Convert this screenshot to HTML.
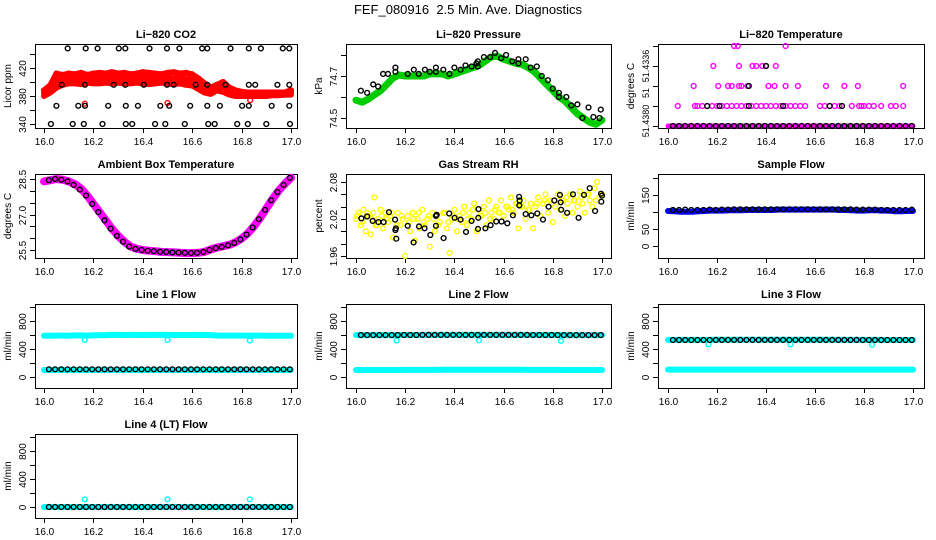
<!DOCTYPE html>
<html><head><meta charset="utf-8"><style>
html,body{margin:0;padding:0;background:#fff}
svg{display:block;font-family:"Liberation Sans",Arial,sans-serif}
</style></head><body>
<svg id="c" width="936" height="540" viewBox="0 0 936 540" xmlns="http://www.w3.org/2000/svg">
<text x="468" y="14" text-anchor="middle" font-size="13" style="white-space:pre">FEF_080916  2.5 Min. Ave. Diagnostics</text>
</svg>
<script>
const xTicks=[16.0,16.2,16.4,16.6,16.8,17.0];
const xTickLabels=["16.0","16.2","16.4","16.6","16.8","17.0"];
const T41=[16.0,16.025,16.05,16.075,16.1,16.125,16.15,16.175,16.2,16.225,16.25,16.275,16.3,16.325,16.35,16.375,16.4,16.425,16.45,16.475,16.5,16.525,16.55,16.575,16.6,16.625,16.65,16.675,16.7,16.725,16.75,16.775,16.8,16.825,16.85,16.875,16.9,16.925,16.95,16.975,17.0];
const blackT=[16.02,16.045,16.07,16.095,16.12,16.145,16.17,16.195,16.22,16.245,16.27,16.295,16.32,16.345,16.37,16.395,16.42,16.445,16.47,16.495,16.52,16.545,16.57,16.595,16.62,16.645,16.67,16.695,16.72,16.745,16.77,16.795,16.82,16.845,16.87,16.895,16.92,16.945,16.97,16.995];
// CO2
const co2RedHi=[388,395,412,410,412,411,413,410,412,413,412,414,412,413,411,412,414,413,412,411,413,414,412,413,411,405,398,392,396,400,392,388,386,385,385,385,385,385,385,385,388];
const co2RedMid=[384,390,402,403,405,404,405,404,405,405,405,406,405,405,404,405,406,405,405,405,405,405,405,404,403,397,391,387,392,393,387,384,383,383,383,383,383,383,383,383,385];
const co2RedLo=[380,385,392,396,398,398,397,399,398,398,399,398,399,398,398,399,398,397,398,399,398,397,398,396,395,390,385,383,388,386,382,380,380,380,380,380,380,381,381,382,382];
const co2BlackT=[16.096,16.169,16.217,16.303,16.329,16.427,16.498,16.548,16.640,16.661,16.755,16.829,16.878,16.967,16.993,16.072,16.166,16.282,16.329,16.404,16.498,16.525,16.614,16.661,16.735,16.829,16.855,16.945,16.993,16.050,16.139,16.166,16.260,16.331,16.380,16.471,16.507,16.592,16.661,16.712,16.802,16.829,16.922,16.993,16.028,16.116,16.161,16.237,16.331,16.357,16.450,16.491,16.570,16.665,16.691,16.782,16.825,16.900,16.996];
const co2BlackV=[448,448,448,448,448,448,448,448,448,448,448,448,448,448,448,396,396,396,396,396,396,396,396,396,396,396,396,396,396,366,366,366,366,366,366,366,366,366,366,366,366,366,366,366,340,340,340,340,340,340,340,340,340,340,340,340,340,340,340];
const co2RedOutT=[16.165,16.5,16.835];
const co2RedOutV=[369,370,374];
// Pressure
const presGreen=[74.585,74.575,74.59,74.61,74.63,74.66,74.69,74.705,74.70,74.70,74.70,74.70,74.71,74.71,74.71,74.70,74.71,74.72,74.73,74.74,74.75,74.77,74.79,74.795,74.78,74.77,74.76,74.755,74.74,74.72,74.69,74.66,74.63,74.60,74.58,74.55,74.52,74.50,74.48,74.47,74.49];
const presBlackT=[16.02,16.045,16.07,16.09,16.11,16.13,16.16,16.16,16.21,16.235,16.255,16.28,16.30,16.325,16.325,16.355,16.38,16.40,16.425,16.445,16.47,16.49,16.495,16.495,16.52,16.545,16.565,16.59,16.61,16.635,16.66,16.66,16.69,16.71,16.735,16.755,16.78,16.80,16.825,16.825,16.855,16.875,16.90,16.92,16.945,16.965,16.99,16.995];
const presBlackV=[74.63,74.62,74.66,74.65,74.71,74.71,74.72,74.74,74.71,74.73,74.71,74.73,74.72,74.74,74.72,74.73,74.71,74.74,74.73,74.75,74.745,74.76,74.77,74.745,74.79,74.79,74.81,74.785,74.80,74.77,74.78,74.76,74.78,74.74,74.745,74.70,74.68,74.64,74.62,74.60,74.60,74.56,74.565,74.50,74.55,74.505,74.50,74.54];
// Li-820 temperature (quantized levels)
const tempMagT=[16.04,16.11,16.12,16.14,16.16,16.18,16.20,16.22,16.24,16.26,16.28,16.30,16.32,16.34,16.36,16.38,16.40,16.42,16.44,16.46,16.48,16.50,16.52,16.54,16.56,16.62,16.64,16.66,16.68,16.70,16.75,16.78,16.79,16.80,16.82,16.84,16.87,16.91,16.93,16.96,16.105,16.205,16.245,16.26,16.29,16.30,16.325,16.41,16.435,16.48,16.53,16.645,16.72,16.775,16.96,16.185,16.29,16.345,16.36,16.385,16.40,16.44,16.27,16.285,16.48];
const tempMagLevel=[1,1,1,1,1,1,1,1,1,1,1,1,1,1,1,1,1,1,1,1,1,1,1,1,1,1,1,1,1,1,1,1,1,1,1,1,1,1,1,1,2,2,2,2,2,2,2,2,2,2,2,2,2,2,2,3,3,3,3,3,3,3,4,4,4];
const tempBlackT=[16.16,16.21,16.33,16.47,16.66,16.71,16.33,16.40];
const tempBlackLevel=[1,1,1,1,1,1,2,3];
// Ambient
const ambMag=[28.4,28.45,28.5,28.47,28.4,28.28,28.1,27.8,27.45,27.1,26.75,26.4,26.1,25.85,25.65,25.55,25.5,25.47,25.45,25.42,25.41,25.4,25.38,25.37,25.37,25.38,25.42,25.52,25.6,25.66,25.72,25.82,25.98,26.2,26.5,26.85,27.25,27.65,28.0,28.3,28.55];
const ambBlack=[28.45,28.5,28.47,28.4,28.25,28.05,27.8,27.45,27.1,26.75,26.4,26.1,25.85,25.65,25.55,25.5,25.47,25.45,25.43,25.42,25.4,25.39,25.38,25.37,25.38,25.42,25.5,25.58,25.63,25.7,25.8,25.95,26.15,26.45,26.8,27.2,27.6,27.95,28.25,28.55];
// RH
const rhYelT=[16.0,16.01,16.02,16.03,16.04,16.05,16.06,16.07,16.075,16.08,16.09,16.1,16.11,16.12,16.13,16.14,16.15,16.17,16.18,16.19,16.2,16.21,16.22,16.23,16.24,16.25,16.26,16.27,16.28,16.29,16.3,16.31,16.32,16.33,16.34,16.36,16.37,16.38,16.39,16.4,16.41,16.42,16.43,16.44,16.45,16.46,16.47,16.48,16.49,16.5,16.51,16.52,16.53,16.54,16.55,16.56,16.57,16.58,16.59,16.6,16.61,16.62,16.63,16.64,16.65,16.66,16.67,16.68,16.69,16.7,16.71,16.72,16.73,16.74,16.75,16.76,16.77,16.78,16.79,16.8,16.81,16.82,16.83,16.84,16.85,16.86,16.87,16.88,16.89,16.9,16.91,16.92,16.93,16.94,16.95,16.96,16.97,16.98,16.99,17.0,16.005,16.025,16.045,16.065,16.085,16.105,16.125,16.145,16.165,16.185,16.215,16.235,16.255,16.275,16.295,16.315,16.335,16.355,16.375,16.395,16.415,16.435,16.455,16.475,16.505,16.525,16.545,16.565,16.585,16.615,16.635,16.655,16.675,16.705,16.735,16.765,16.795,16.825,16.855,16.885,16.915,16.945,16.975];
const rhYelV=[2.02,2.03,2.01,2.035,2.00,2.025,1.995,2.03,2.055,2.01,2.02,2.035,2.005,2.03,2.015,2.025,1.99,2.03,2.01,2.02,1.96,2.025,2.0,2.03,1.985,2.02,2.005,2.035,2.01,2.02,1.975,2.03,2.0,2.025,2.015,2.03,2.005,1.965,2.02,2.035,2.0,2.025,2.015,2.04,2.01,2.03,2.02,2.045,2.0,2.035,2.025,2.04,2.01,2.05,2.03,2.02,2.04,2.03,2.05,2.025,2.04,2.035,2.055,2.03,2.045,2.005,2.04,2.05,2.02,2.035,2.045,2.005,2.04,2.055,2.025,2.045,2.06,2.03,2.05,2.015,2.04,2.06,2.035,2.05,2.025,2.045,2.06,2.03,2.05,2.04,2.065,2.045,2.03,2.06,2.05,2.04,2.07,2.08,2.055,2.06,2.025,2.015,2.03,2.02,2.01,2.025,2.02,2.03,2.01,2.025,2.015,2.02,2.03,2.015,2.025,2.02,2.01,2.03,2.015,2.025,2.02,2.03,2.02,2.035,2.025,2.03,2.02,2.035,2.03,2.04,2.035,2.045,2.04,2.035,2.045,2.05,2.045,2.05,2.055,2.05,2.055,2.06,2.05];
const rhBlackT=[16.022,16.045,16.068,16.091,16.112,16.134,16.159,16.16,16.162,16.164,16.21,16.234,16.256,16.279,16.302,16.325,16.325,16.328,16.356,16.379,16.401,16.425,16.447,16.47,16.496,16.497,16.498,16.526,16.547,16.57,16.592,16.615,16.638,16.663,16.664,16.665,16.69,16.713,16.737,16.76,16.783,16.806,16.829,16.832,16.834,16.858,16.882,16.905,16.927,16.95,16.972,16.996,16.997,17.0];
const rhBlackV=[2.021,2.024,2.017,2.015,2.015,2.031,2.019,2.002,2.005,1.988,2.009,1.982,2.008,2.005,1.994,2.009,2.025,2.027,1.989,2.029,2.022,2.019,1.999,2.017,2.004,2.022,2.036,2.005,2.010,2.016,2.016,2.013,2.026,2.056,2.042,2.050,2.028,2.026,2.029,2.019,2.04,2.05,2.059,2.047,2.035,2.03,2.06,2.022,2.059,2.07,2.033,2.061,2.048,2.058];
// Sample flow
const sampBlue=[103,102,101,101,101,102,103,104,104,104,105,105,105,106,106,106,106,106,107,107,107,107,107,107,107,107,107,107,106,106,105,104,104,105,105,104,104,102,102,103,103];
const sampBlack=[106,106,107,106,106,106,107,106,107,107,108,108,108,108,108,108,108,108,108,108,108,108,108,108,108,108,108,108,108,108,107,107,107,107,106,106,106,106,106,107];
// Line flows
const line1CyanHi=[590,590,592,592,590,594,595,592,596,596,598,602,602,600,602,602,600,602,602,602,602,600,600,600,600,602,600,598,592,592,592,592,592,590,592,592,590,590,590,590,590];
const line1CyanLo=[100,100,100,100,100,100,100,100,100,100,100,100,100,100,100,100,100,100,100,100,100,100,100,100,100,100,100,100,100,100,100,100,100,100,100,100,100,100,100,100,100];
const line1Black=[110,110,110,110,110,110,110,110,110,110,110,110,110,110,110,110,110,110,110,110,110,110,110,110,110,110,110,110,110,110,110,110,110,110,110,110,110,110,110,110];
const line2CyanHi=[598,598,598,598,598,598,598,600,600,600,600,602,602,602,602,602,602,602,602,602,602,602,602,602,602,602,602,602,600,600,600,600,600,598,598,598,598,598,598,598,598];
const line2CyanLo=[100,100,100,100,100,100,100,100,102,102,102,102,102,102,104,104,104,104,104,104,104,104,104,104,104,104,104,104,102,102,102,102,102,102,100,100,100,100,100,100,100];
const line2Black=[598,598,598,598,598,598,600,600,600,600,602,602,602,602,602,602,602,602,602,602,602,602,602,602,602,602,602,602,600,600,600,600,600,598,598,598,598,598,598,598];
const line3CyanHi=[530,530,530,530,530,530,530,530,532,532,532,532,532,532,532,532,532,532,532,532,532,532,532,532,532,532,532,532,530,530,530,530,530,530,530,528,528,528,528,528,528];
const line3CyanLo=[105,105,105,105,105,105,105,105,105,105,105,105,105,105,105,105,105,105,105,105,105,105,105,105,105,105,105,105,105,105,105,105,105,105,105,105,105,105,105,105,105];
const line3Black=[528,528,528,528,528,528,528,530,530,530,530,530,530,530,530,530,530,530,530,530,530,530,530,530,530,530,530,530,530,530,530,528,528,528,528,528,528,528,528,528];
const line4Cyan=[0,0,0,0,0,0,0,0,0,0,0,0,0,0,0,0,0,0,0,0,0,0,0,0,0,0,0,0,0,0,0,0,0,0,0,0,0,0,0,0,0];
const line4Black=[0,0,0,0,0,0,0,0,0,0,0,0,0,0,0,0,0,0,0,0,0,0,0,0,0,0,0,0,0,0,0,0,0,0,0,0,0,0,0,0];
const outT=[16.165,16.5,16.833];
const line1Out=[530,530,520];
const line2Out=[520,525,515];
const line3Out=[465,465,460];
const line4Out=[110,110,110];

const NS="http://www.w3.org/2000/svg";
const svg=document.getElementById('c');
const COLS=[{L:35,R:297,x0:44,x1:291},{L:346,R:611,x0:356,x1:602},{L:658,R:924,x0:668,x1:913}];
const ROWTOP=[44,174,304,434];
const PH=84;
function el(tag,attrs,parent){const e=document.createElementNS(NS,tag);for(const k in attrs)e.setAttribute(k,attrs[k]);(parent||svg).appendChild(e);return e;}

function panel(col,row,name,title,ylab,va,oa,vb,ob,yTicks,yLabels){
  const c=COLS[col],top=ROWTOP[row],bot=top+PH;
  const g=el('g',{});
  
  
  const sx=t=>c.x0+(t-16)*(c.x1-c.x0);
  const sy=v=>top+oa+(v-va)*(ob-oa)/(vb-va);
  const bx=el('rect',{x:c.L+.5,y:top+.5,width:c.R-c.L,height:PH,fill:'none',stroke:'#000','stroke-width':1},g);
  
  
  const tt=el('text',{x:(c.L+c.R)/2,y:top-6,'text-anchor':'middle','font-size':11,'font-weight':'bold'},g);
  tt.textContent=title;
  
  
  const yt=el('text',{transform:`translate(${c.L-24},${top+PH/2}) rotate(-90)`,'text-anchor':'middle','font-size':10},g);
  yt.textContent=ylab;
  
  
  const xa=el('g',{},g);
  
  
  xTicks.forEach((t,i)=>{
    const x=Math.round(sx(t))+.5;
    el('line',{x1:x,x2:x,y1:bot,y2:bot+5,stroke:'#000'},xa);
    const tx=el('text',{x:x,y:bot+17,'text-anchor':'middle','font-size':10},xa);
    tx.textContent=xTickLabels[i];
    
    
  });
  const ya=el('g',{},g);
  
  
  yTicks.forEach((v,i)=>{
    const y=Math.round(sy(v))+.5;
    el('line',{x1:c.L-5,x2:c.L,y1:y,y2:y,stroke:'#000'},ya);
    if(yLabels && yLabels[i]){
      const tx=el('text',{transform:`translate(${c.L-9},${y}) rotate(-90)`,'text-anchor':'middle','font-size':10},ya);
      tx.textContent=yLabels[i];
      
      
    }
  });
  return {g,sx,sy,ya,c,top};
}
function pts(p,ts,vs,color,name,r){
  const g=el('g',{fill:'none',stroke:color,'stroke-width':1.4},p.g);
  
  
  ts.forEach((t,i)=>{
    const c=el('circle',{cx:p.sx(t).toFixed(1),cy:p.sy(vs[i]).toFixed(1),r:r||2.4},g);
    
    
  });
}
function band(p,ts,vs,color,name,w){
  const d=ts.map((t,i)=>p.sx(t).toFixed(1)+','+p.sy(vs[i]).toFixed(1)).join(' ');
  const l=el('polyline',{points:d,fill:'none',stroke:color,'stroke-width':w||6,'stroke-linejoin':'round','stroke-linecap':'round'},p.g);
  
  
}

// Row 1
let p=panel(0,0,'co2','Li\u2212820 CO2','Licor ppm',340,80,420,24,[340,360,380,400,420,440],['340',null,'380',null,'420',null]);
band(p,T41,co2RedHi,'#ff0000','co2-red-band-upper',6);
band(p,T41,co2RedMid,'#ff0000','co2-red-band-middle',6);
band(p,T41,co2RedLo,'#ff0000','co2-red-band-lower',6);
pts(p,T41,co2RedHi,'#ff0000','co2-red-upper');
pts(p,co2RedOutT,co2RedOutV,'#ff0000','co2-red-outliers');
pts(p,co2BlackT,co2BlackV,'#000','co2-black');

p=panel(1,0,'pressure','Li\u2212820 Pressure','kPa',74.5,74,74.7,32,[74.5,74.6,74.7,74.8],['74.5',null,'74.7',null]);
band(p,T41,presGreen,'#00cc00','pressure-green-band',7);
pts(p,presBlackT,presBlackV,'#000','pressure-black');

p=panel(2,0,'li820-temp','Li\u2212820 Temperature','degrees C',0,82,1,62,[0,1,2,3,4],null);
[['51.4380',77],['51',49],['51.4336',22]].forEach(([s,o])=>{
  const tx=el('text',{transform:`translate(${p.c.L-9},${p.top+o}) rotate(-90)`,'text-anchor':'middle','font-size':9},p.ya);
  tx.textContent=s;
  
  
});
band(p,T41,T41.map(()=>0),'#ff00ff','temp-magenta-base',5);
pts(p,tempMagT,tempMagLevel,'#ff00ff','temp-magenta');
pts(p,blackT,blackT.map(()=>0),'#000','temp-black-base');
pts(p,tempBlackT,tempBlackLevel,'#000','temp-black');

// Row 2
p=panel(0,1,'ambient','Ambient Box Temperature','degrees C',25.5,76,28.5,5,[25.5,26,26.5,27,27.5,28,28.5],['25.5',null,null,'27.0',null,null,'28.5']);
band(p,T41,ambMag,'#ff00ff','ambient-magenta-band',8);
pts(p,blackT,ambBlack,'#000','ambient-black');

p=panel(1,1,'rh','Gas Stream RH','percent',1.96,82,2.08,8,[1.96,1.98,2.0,2.02,2.04,2.06,2.08],['1.96',null,null,'2.02',null,null,'2.08']);
pts(p,rhYelT,rhYelV,'#ffff00','rh-yellow');
pts(p,rhBlackT,rhBlackV,'#000','rh-black');

p=panel(2,1,'sample-flow','Sample Flow','ml/min',0,72,150,21,[0,50,100,150,200],['0','50',null,'150',null]);
band(p,T41,sampBlue,'#0000ff','sample-blue-band',6);
pts(p,blackT,sampBlack,'#000','sample-black');

// Row 3
const fT=[0,200,400,600,800,1000],fL=['0',null,'400',null,'800',null];
p=panel(0,2,'line1','Line 1 Flow','ml/min',0,73,800,17,fT,fL);
band(p,T41,line1CyanHi,'#00ffff','line1-cyan-high',6);
band(p,T41,line1CyanLo,'#00ffff','line1-cyan-low',6);
pts(p,outT,line1Out,'#00ffff','line1-cyan-outliers');
pts(p,blackT,line1Black,'#000','line1-black');

p=panel(1,2,'line2','Line 2 Flow','ml/min',0,73,800,17,fT,fL);
band(p,T41,line2CyanHi,'#00ffff','line2-cyan-high',6);
band(p,T41,line2CyanLo,'#00ffff','line2-cyan-low',6);
pts(p,outT,line2Out,'#00ffff','line2-cyan-outliers');
pts(p,blackT,line2Black,'#000','line2-black');

p=panel(2,2,'line3','Line 3 Flow','ml/min',0,73,800,17,fT,fL);
band(p,T41,line3CyanHi,'#00ffff','line3-cyan-high',6);
band(p,T41,line3CyanLo,'#00ffff','line3-cyan-low',6);
pts(p,outT,line3Out,'#00ffff','line3-cyan-outliers');
pts(p,blackT,line3Black,'#000','line3-black');

// Row 4
p=panel(0,3,'line4','Line 4 (LT) Flow','ml/min',0,73,800,17,fT,fL);
band(p,T41,line4Cyan,'#00ffff','line4-cyan',6);
pts(p,outT,line4Out,'#00ffff','line4-cyan-outliers');
pts(p,blackT,line4Black,'#000','line4-black');
</script>
</body></html>
